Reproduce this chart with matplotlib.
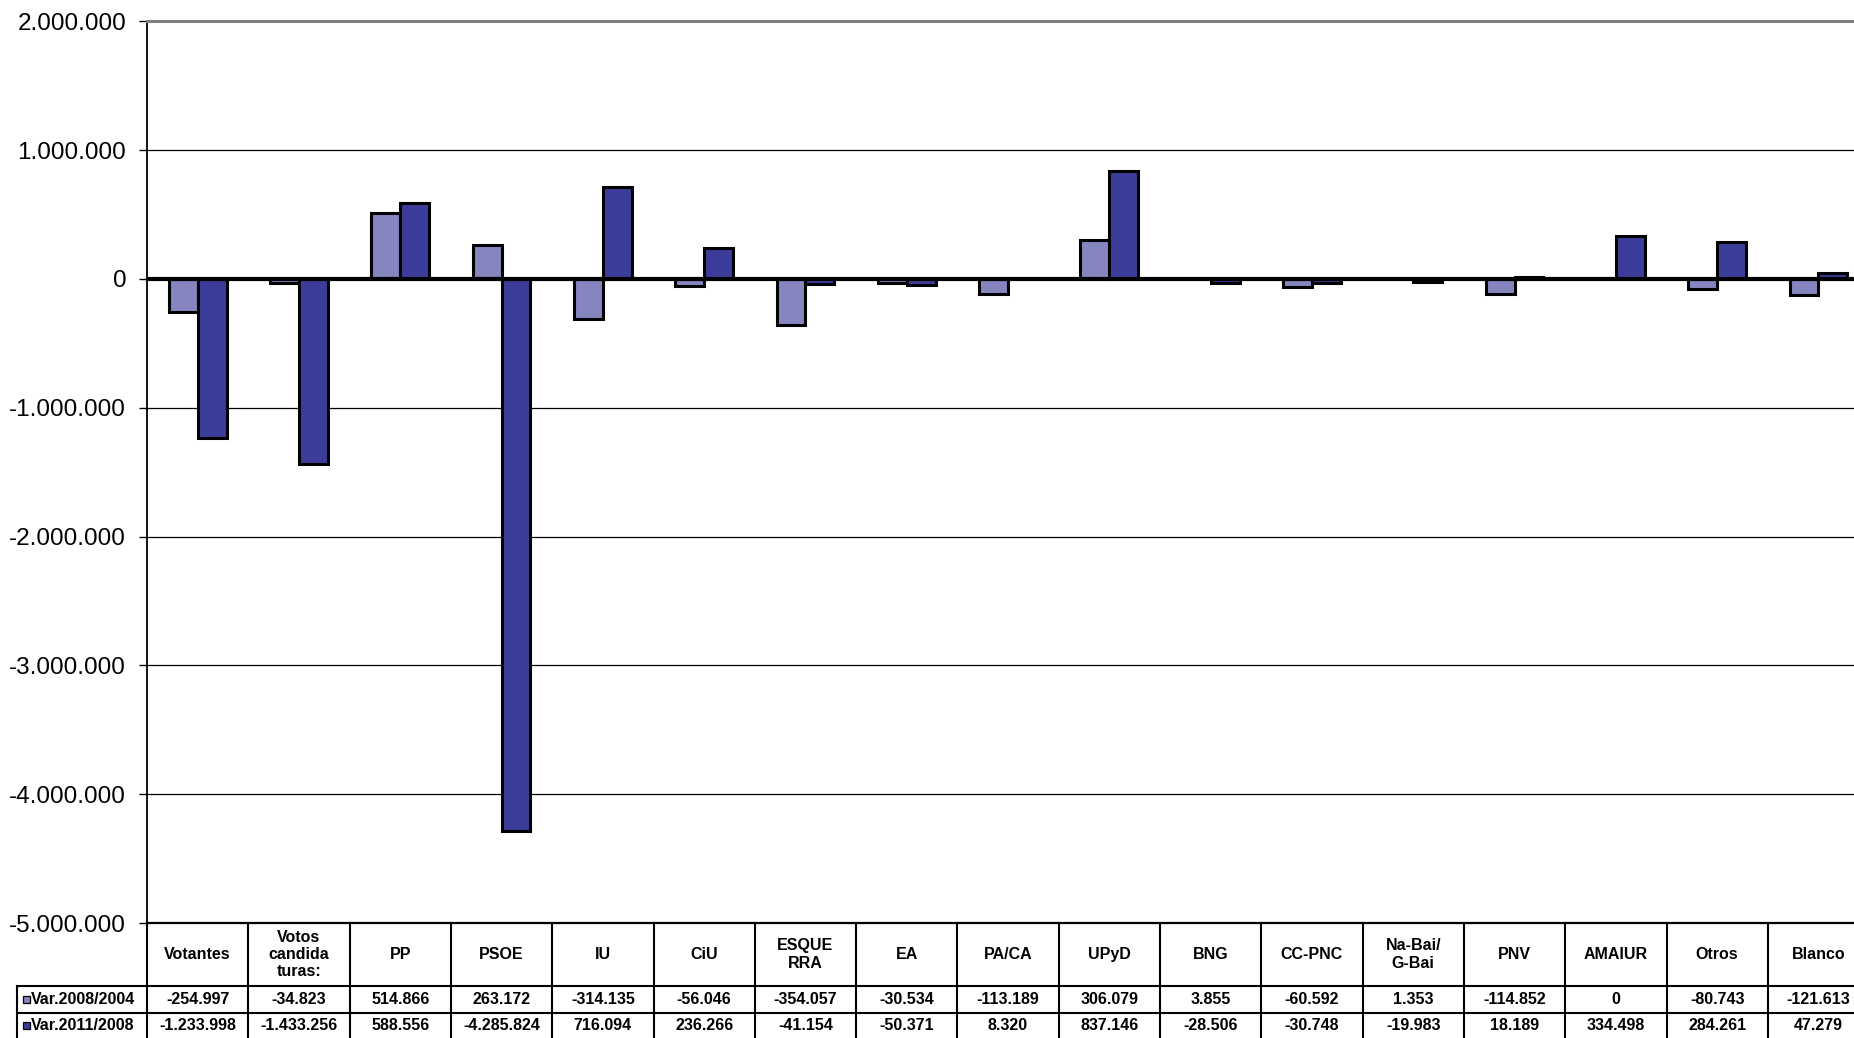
import matplotlib
matplotlib.use("Agg")
import matplotlib.pyplot as plt
from matplotlib.ticker import FuncFormatter, FixedLocator
from matplotlib.transforms import blended_transform_factory
from matplotlib.lines import Line2D
from matplotlib.patches import Rectangle

plt.rcParams['font.family'] = ['Liberation Sans', 'DejaVu Sans']

categories = ["Votantes", "Votos\ncandida\nturas:", "PP", "PSOE", "IU", "CiU", "ESQUE\nRRA", "EA",
              "PA/CA", "UPyD", "BNG", "CC-PNC", "Na-Bai/\nG-Bai", "PNV", "AMAIUR", "Otros", "Blanco"]
series_names = ["Var.2008/2004", "Var.2011/2008"]
var_2008_2004 = [-254997, -34823, 514866, 263172, -314135, -56046, -354057, -30534,
                 -113189, 306079, 3855, -60592, 1353, -114852, 0, -80743, -121613]
var_2011_2008 = [-1233998, -1433256, 588556, -4285824, 716094, 236266, -41154, -50371,
                 8320, 837146, -28506, -30748, -19983, 18189, 334498, 284261, 47279]
y_ticks = [-5000000, -4000000, -3000000, -2000000, -1000000, 0, 1000000, 2000000]

light = "#8585C0"
dark = "#3C3C9A"

W, H = 1854, 1038
fig = plt.figure(figsize=(W / 100, H / 100), dpi=100)
fig.patch.set_facecolor("white")

left_px, top_px, bottom_px = 147, 21.3, 923
col_px = 101.3
ax = fig.add_axes([left_px / W, 1 - bottom_px / H, col_px * len(categories) / W, (bottom_px - top_px) / H])

x = list(range(len(categories)))
bw = 0.2857
ax.bar([i - bw / 2 for i in x], var_2008_2004, width=bw, color=light, edgecolor="black", linewidth=2.2, zorder=3)
ax.bar([i + bw / 2 for i in x], var_2011_2008, width=bw, color=dark, edgecolor="black", linewidth=2.2, zorder=3)

ax.set_xlim(-0.5, len(categories) - 0.5)
ax.set_ylim(-5000000, 2000000)
ax.yaxis.set_major_locator(FixedLocator(y_ticks))
ax.yaxis.set_major_formatter(FuncFormatter(lambda v, p: f"{int(v):,}".replace(",", ".")))
ax.tick_params(axis="y", direction="out", length=6, width=1, pad=9, labelsize=17.5, colors="black")
ax.set_xticks([])
for v in y_ticks[1:-1]:
    if v != 0:
        ax.axhline(v, color="black", linewidth=0.9, zorder=1)
ax.axhline(0, color="black", linewidth=3.0, zorder=4)

ax.spines["left"].set_linewidth(1.3)
ax.spines["bottom"].set_linewidth(1.6)
ax.spines["top"].set_color("#808080")
ax.spines["top"].set_linewidth(2.2)
ax.spines["right"].set_visible(False)

# ---- data table below the axes ----
ax_h_px = bottom_px - top_px
def ay(px):
    return -(px - bottom_px) / ax_h_px

tr = blended_transform_factory(ax.transData, ax.transAxes)
y_hdr_bot = ay(986)
y_r1_bot = ay(1012.7)
y_r2_bot = ay(1040)
x_label_left = -0.5 - (left_px - 17) / col_px
n = len(categories)

def line(xs, ys, lw=1.5):
    ax.add_line(Line2D(xs, ys, transform=tr, color="black", linewidth=lw, clip_on=False, zorder=5))

for i in range(n + 1):
    line([i - 0.5, i - 0.5], [0, y_r2_bot])
line([x_label_left, x_label_left], [y_hdr_bot, y_r2_bot])
line([x_label_left, n - 0.5], [y_hdr_bot, y_hdr_bot])
line([x_label_left, n - 0.5], [y_r1_bot, y_r1_bot])

fs = 11.5
for i, c in enumerate(categories):
    ax.text(i, (0 + y_hdr_bot) / 2, c, transform=tr, ha="center", va="center",
            fontsize=fs, fontweight="bold", linespacing=1.2, clip_on=False)
    for vals, (ya, yb) in ((var_2008_2004, (y_hdr_bot, y_r1_bot)), (var_2011_2008, (y_r1_bot, ay(1039)))):
        ax.text(i, (ya + yb) / 2, f"{vals[i]:,}".replace(",", "."), transform=tr, ha="center", va="center",
                fontsize=fs, fontweight="bold", clip_on=False)

for name, col, (ya, yb) in ((series_names[0], light, (986, 1012.7)), (series_names[1], dark, (1012.7, 1039))):
    yc = (ya + yb) / 2
    fig.patches.append(Rectangle((23 / W, 1 - (yc + 3.5) / H), 7 / W, 7 / H, transform=fig.transFigure,
                                 facecolor=col, edgecolor="black", linewidth=0.9))
    fig.text(31 / W, 1 - yc / H, name, ha="left", va="center", fontsize=fs, fontweight="bold")

fig.savefig("out.png", dpi=100, facecolor="white")
